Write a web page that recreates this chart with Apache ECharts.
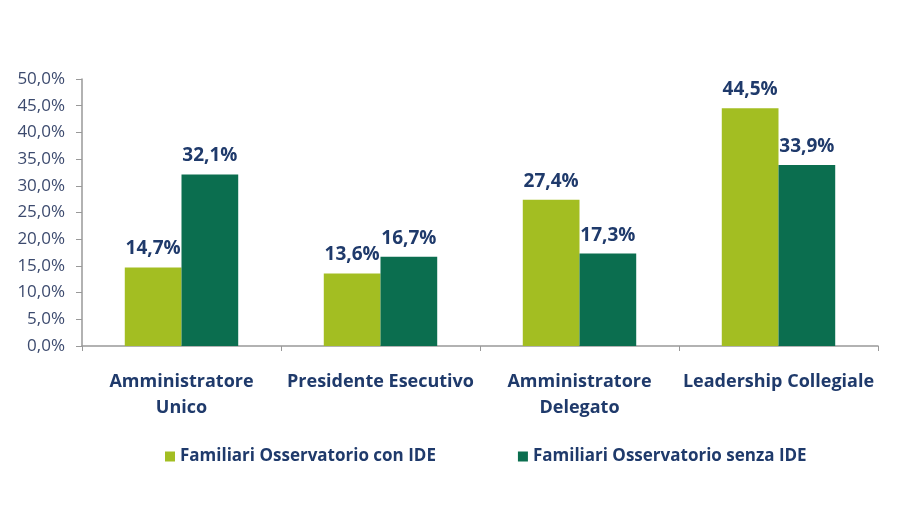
<!DOCTYPE html>
<html>
<head>
<meta charset="utf-8">
<script src="https://cdn.jsdelivr.net/npm/echarts@6/dist/echarts.min.js"></script>
<style>
html,body{margin:0;padding:0;background:#fff;}
#chart{width:898px;height:519px;}
</style>
</head>
<body>
<div id="chart"></div>
<script>
var categories = ['Amministratore\nUnico', 'Presidente Esecutivo', 'Amministratore\nDelegato', 'Leadership Collegiale'];
var seriesNames = ['Familiari Osservatorio con IDE', 'Familiari Osservatorio senza IDE'];
var conIDE = [14.7, 13.6, 27.4, 44.5];
var senzaIDE = [32.1, 16.7, 17.3, 33.9];
var yTicks = { min: 0, max: 50, interval: 5 };

var navy = '#1f3a6b';
var fmt = function (v) { return v.toFixed(1).replace('.', ',') + '%'; };

var chart = echarts.init(document.getElementById('chart'));
chart.setOption({
  animation: false,
  textStyle: { fontFamily: 'Open Sans' },
  grid: { left: 82, right: 20, top: 79, bottom: 173 },
  legend: {
    bottom: 49,
    left: 160,
    itemGap: 82,
    itemWidth: 10,
    itemHeight: 10,
    icon: 'rect',
    textStyle: { color: navy, fontSize: 17, fontWeight: 'bold', fontFamily: 'Open Sans' },
    data: seriesNames
  },
  xAxis: {
    type: 'category',
    data: categories,
    axisLine: { lineStyle: { color: '#999', width: 1.5 } },
    axisTick: { show: true, alignWithLabel: false, length: 5, lineStyle: { color: '#999' } },
    axisLabel: { color: navy, fontSize: 18, fontWeight: 'bold', margin: 23, lineHeight: 26, interval: 0 }
  },
  yAxis: {
    type: 'value',
    min: yTicks.min, max: yTicks.max, interval: yTicks.interval,
    splitLine: { show: false },
    axisLine: { show: true, lineStyle: { color: '#999', width: 1.5 } },
    axisTick: { show: true, length: 6, lineStyle: { color: '#999' } },
    axisLabel: { color: '#3c4a6e', fontSize: 17, margin: 17, formatter: fmt }
  },
  series: [
    {
      name: seriesNames[0], type: 'bar', data: conIDE,
      barGap: '0%', barCategoryGap: '43%',
      itemStyle: { color: '#a3be22' },
      label: { show: true, position: 'top', distance: 9, color: navy, fontSize: 19, fontWeight: 'bold', formatter: function (p) { return fmt(p.value); } }
    },
    {
      name: seriesNames[1], type: 'bar', data: senzaIDE,
      itemStyle: { color: '#0b6e4f' },
      label: { show: true, position: 'top', distance: 9, color: navy, fontSize: 19, fontWeight: 'bold', formatter: function (p) { return fmt(p.value); } }
    }
  ]
});
</script>
</body>
</html>
